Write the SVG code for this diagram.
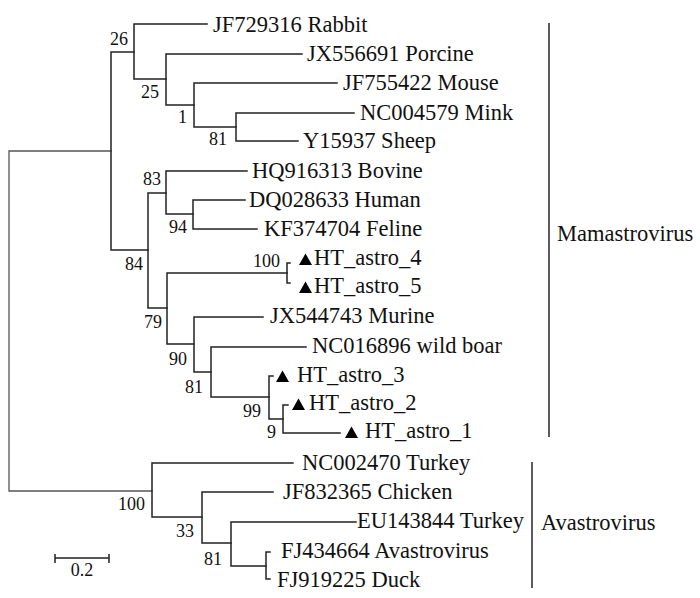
<svg xmlns="http://www.w3.org/2000/svg" width="700" height="598" viewBox="0 0 700 598">
<rect x="0" y="0" width="700" height="598" fill="#fff"/>
<g id="connectors" fill="none" stroke="#222" stroke-width="1.5" stroke-linecap="square">
<path stroke="#555" stroke-width="1.3" d="M111 151H9V491H152"/>
<path d="M134 52H111V250H148"/>
<path d="M207 24H134V79H166"/>
<path d="M302 54H166V105H194"/>
<path d="M337 83H194V127H236"/>
<path d="M354 113H236V141H298"/>
<path d="M166 193H148V308H167"/>
<path d="M247 171H166V214H193"/>
<path d="M245 200H193V229H257"/>
<path d="M287 273H167V344H194"/>
<path d="M290 263H287V283H290"/>
<path d="M263 317H194V372H211"/>
<path d="M306 347H211V397H269"/>
<path d="M273 376H269V419H283"/>
<path d="M288 405H283V433H340"/>
<path d="M293 463H152V517H202"/>
<path d="M273 492H202V543H231"/>
<path d="M356 522H231V566H266"/>
<path d="M270 552H266V579H270"/>
</g>
<g id="bootstrap">
<text font-family="Liberation Serif" font-size="18" text-anchor="end" fill="#111" x="128" y="45">26</text>
<text font-family="Liberation Serif" font-size="18" text-anchor="end" fill="#111" x="159" y="98">25</text>
<text font-family="Liberation Serif" font-size="18" text-anchor="end" fill="#111" x="187" y="123">1</text>
<text font-family="Liberation Serif" font-size="18" text-anchor="end" fill="#111" x="227" y="145">81</text>
<text font-family="Liberation Serif" font-size="18" text-anchor="end" fill="#111" x="161" y="185">83</text>
<text font-family="Liberation Serif" font-size="18" text-anchor="end" fill="#111" x="187" y="233">94</text>
<text font-family="Liberation Serif" font-size="18" text-anchor="end" fill="#111" x="143" y="270">84</text>
<text font-family="Liberation Serif" font-size="18" text-anchor="end" fill="#111" x="162" y="328">79</text>
<text font-family="Liberation Serif" font-size="18" text-anchor="end" fill="#111" x="280" y="267">100</text>
<text font-family="Liberation Serif" font-size="18" text-anchor="end" fill="#111" x="187" y="365">90</text>
<text font-family="Liberation Serif" font-size="18" text-anchor="end" fill="#111" x="203" y="393">81</text>
<text font-family="Liberation Serif" font-size="18" text-anchor="end" fill="#111" x="261" y="417">99</text>
<text font-family="Liberation Serif" font-size="18" text-anchor="end" fill="#111" x="276" y="438">9</text>
<text font-family="Liberation Serif" font-size="18" text-anchor="end" fill="#111" x="145" y="510">100</text>
<text font-family="Liberation Serif" font-size="18" text-anchor="end" fill="#111" x="194" y="537">33</text>
<text font-family="Liberation Serif" font-size="18" text-anchor="end" fill="#111" x="222" y="565">81</text>
</g>
<g id="n-rabbit"><text font-family="Liberation Serif" font-size="22.5" fill="#111" x="213" y="32">JF729316 Rabbit</text></g>
<g id="n-porcine"><text font-family="Liberation Serif" font-size="22.5" fill="#111" x="307" y="61">JX556691 Porcine</text></g>
<g id="n-mouse"><text font-family="Liberation Serif" font-size="22.5" fill="#111" x="343" y="90">JF755422 Mouse</text></g>
<g id="n-mink"><text font-family="Liberation Serif" font-size="22.5" fill="#111" x="360" y="120">NC004579 Mink</text></g>
<g id="n-sheep"><text font-family="Liberation Serif" font-size="22.5" fill="#111" x="303" y="148">Y15937 Sheep</text></g>
<g id="n-bovine"><text font-family="Liberation Serif" font-size="22.5" fill="#111" x="252" y="178">HQ916313 Bovine</text></g>
<g id="n-human"><text font-family="Liberation Serif" font-size="22.5" fill="#111" x="249" y="207">DQ028633 Human</text></g>
<g id="n-feline"><text font-family="Liberation Serif" font-size="22.5" fill="#111" x="264" y="236">KF374704 Feline</text></g>
<g id="n-ht4"><polygon fill="#000" points="299,265 312,265 305.5,253.5"/><text font-family="Liberation Serif" font-size="22.5" fill="#111" x="314" y="265">HT_astro_4</text></g>
<g id="n-ht5"><polygon fill="#000" points="299,293 312,293 305.5,281.5"/><text font-family="Liberation Serif" font-size="22.5" fill="#111" x="314" y="293">HT_astro_5</text></g>
<g id="n-murine"><text font-family="Liberation Serif" font-size="22.5" fill="#111" x="270" y="323">JX544743 Murine</text></g>
<g id="n-wildboar"><text font-family="Liberation Serif" font-size="22.5" fill="#111" x="312" y="353">NC016896 wild boar</text></g>
<g id="n-ht3"><polygon fill="#000" points="276,382 289,382 282.5,370.5"/><text font-family="Liberation Serif" font-size="22.5" fill="#111" x="297" y="382">HT_astro_3</text></g>
<g id="n-ht2"><polygon fill="#000" points="292,410 305,410 298.5,398.5"/><text font-family="Liberation Serif" font-size="22.5" fill="#111" x="309" y="410">HT_astro_2</text></g>
<g id="n-ht1"><polygon fill="#000" points="345,438 358,438 351.5,426.5"/><text font-family="Liberation Serif" font-size="22.5" fill="#111" x="365" y="438">HT_astro_1</text></g>
<g id="n-turkey1"><text font-family="Liberation Serif" font-size="22.5" fill="#111" x="302" y="470">NC002470 Turkey</text></g>
<g id="n-chicken"><text font-family="Liberation Serif" font-size="22.5" fill="#111" x="283" y="499">JF832365 Chicken</text></g>
<g id="n-turkey2"><text font-family="Liberation Serif" font-size="22.5" fill="#111" x="357" y="528">EU143844 Turkey</text></g>
<g id="n-avastro"><text font-family="Liberation Serif" font-size="22.5" fill="#111" x="281" y="558">FJ434664 Avastrovirus</text></g>
<g id="n-duck"><text font-family="Liberation Serif" font-size="22.5" fill="#111" x="277" y="587">FJ919225 Duck</text></g>
<g id="g-mamastrovirus">
<line x1="549" y1="23" x2="549" y2="437" stroke="#333" stroke-width="1.6"/>
<text font-family="Liberation Serif" font-size="22.5" fill="#111" x="557" y="241">Mamastrovirus</text>
</g>
<g id="g-avastrovirus">
<line x1="532" y1="462" x2="532" y2="588" stroke="#333" stroke-width="1.6"/>
<text font-family="Liberation Serif" font-size="22.5" fill="#111" x="541" y="530">Avastrovirus</text>
</g>
<g id="scale">
<path fill="none" stroke="#222" stroke-width="1.5" d="M55 558H109M55 554V563M109 554V563"/>
<text font-family="Liberation Serif" font-size="18" text-anchor="middle" fill="#111" x="82" y="576">0.2</text>
</g>
</svg>
